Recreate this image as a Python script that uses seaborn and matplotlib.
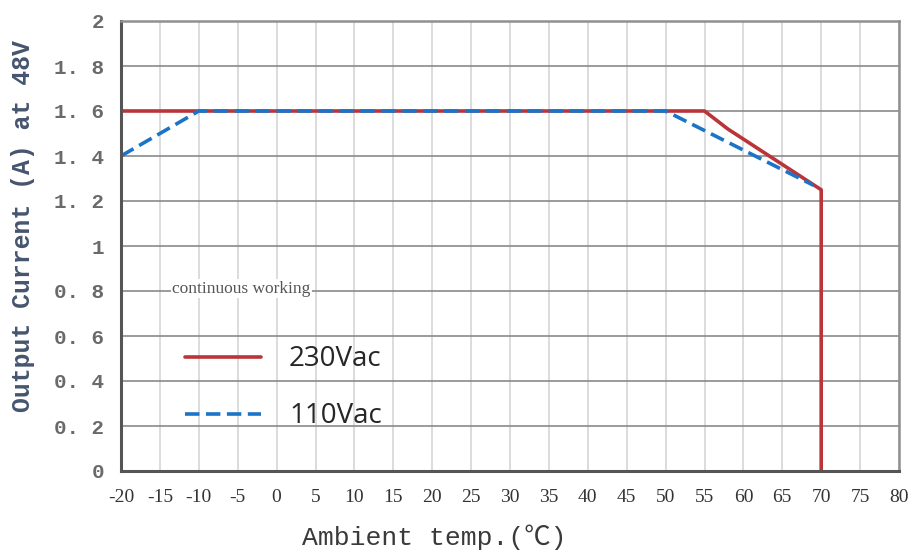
"""
Derating curve: output current vs ambient temperature.
"""

import matplotlib
matplotlib.use("Agg")
import matplotlib.pyplot as plt
import seaborn as sns
import pandas as pd

# 230Vac curve
temp_230 = [-20, 55, 58, 70, 70]
current_230 = [1.6, 1.6, 1.52, 1.25, 0]

# 110Vac curve
temp_110 = [-20, -10, 50, 69]
current_110 = [1.4, 1.6, 1.6, 1.27]

x_ticks = list(range(-20, 85, 5))
y_ticks = [0, 0.2, 0.4, 0.6, 0.8, 1, 1.2, 1.4, 1.6, 1.8, 2]
y_labels = ["0", "0. 2", "0. 4", "0. 6", "0. 8", "1", "1. 2", "1. 4", "1. 6", "1. 8", "2"]

df_230 = pd.DataFrame({"temp": temp_230, "current": current_230})
df_110 = pd.DataFrame({"temp": temp_110, "current": current_110})

sns.set_style("white")

fig = plt.figure(figsize=(9.15, 5.56), dpi=100)
ax = fig.add_axes([121 / 915, 1 - 471 / 556, (899 - 121) / 915, (471 - 21) / 556])

sns.lineplot(data=df_230, x="temp", y="current", sort=False, estimator=None, ax=ax,
             color="#b9353a", linewidth=2.6, label="230Vac")
sns.lineplot(data=df_110, x="temp", y="current", sort=False, estimator=None, ax=ax,
             color="#1c74c8", linewidth=2.6, linestyle=(0, (4, 1.8)), label="110Vac")

ax.set_xlim(-20, 80)
ax.set_ylim(0, 2)
ax.set_xticks(x_ticks)
ax.set_yticks(y_ticks)
ax.set_xticklabels([str(t) for t in x_ticks], family="Liberation Serif",
                   fontsize=14, color="#333333")
ax.set_yticklabels(y_labels, family="Liberation Mono", fontweight="bold",
                   fontsize=15, color="#6a6a6a")

ax.grid(axis="x", color="#d5d5d5", linewidth=1.2)
ax.grid(axis="y", color="#8a8a8a", linewidth=1.2)
ax.set_axisbelow(True)

for side in ["top", "right"]:
    ax.spines[side].set_color("#909090")
    ax.spines[side].set_linewidth(1.8)
for side in ["left", "bottom"]:
    ax.spines[side].set_color("#555555")
    ax.spines[side].set_linewidth(2.2)

ax.tick_params(axis="x", direction="in", length=4, width=1.2, color="#555555", pad=13)
ax.tick_params(axis="y", length=0, pad=12)

ax.set_xlabel("Ambient temp.(℃)", family=["Liberation Mono", "Noto Sans CJK SC"],
              fontsize=19, color="#3a3a3a", labelpad=13, x=0.402)
ax.set_ylabel("Output Current (A) at 48V", family="Liberation Mono",
              fontweight="bold", fontsize=17.8, color="#46556e", labelpad=14, y=0.544)

ax.text(-13.4, 0.81, "continuous working", family="Liberation Serif",
        fontsize=12.5, color="#555555", va="center", ha="left",
        bbox=dict(facecolor="white", edgecolor="none", pad=1))

ax.legend(loc="upper left", bbox_to_anchor=(0.05, 0.335), frameon=False,
          handlelength=2.75, handletextpad=1.0, labelspacing=1.05,
          prop={"family": "Open Sans", "size": 20})

fig.savefig("out.png", dpi=100)
